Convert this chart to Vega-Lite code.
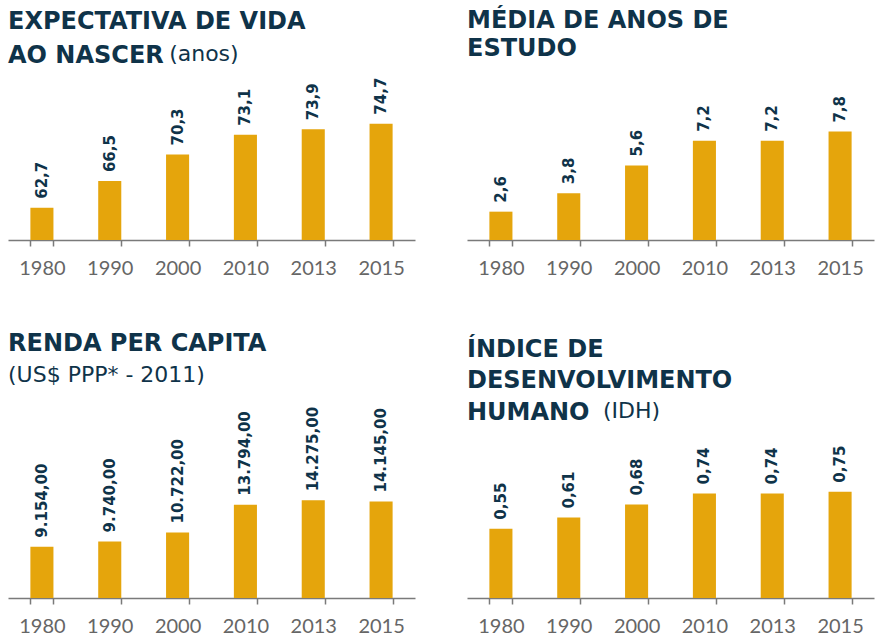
{
  "$schema": "https://vega.github.io/schema/vega-lite/v6.json",
  "background": "white",
  "padding": {"left": 8, "top": 9, "right": 4, "bottom": 2},
  "bounds": "flush",
  "columns": 2,
  "spacing": {"row": 208, "column": 52},
  "config": {
    "view": {"stroke": null},
    "locale": {"number": {"decimal": ",", "thousands": ".", "grouping": [3], "currency": ["US$", ""]}},
    "title": {
      "anchor": "start",
      "font": "DejaVu Sans",
      "fontSize": 24,
      "fontWeight": "bold",
      "color": "#0f3349",
      "subtitleFont": "DejaVu Sans",
      "subtitleFontSize": 22,
      "subtitleFontWeight": "normal",
      "subtitleColor": "#0f3349"
    },
    "axisX": {
      "title": null,
      "labelAngle": 0,
      "labelFont": "Lato",
      "labelFontSize": 20,
      "labelColor": "#666666",
      "labelPadding": 12,
      "domainColor": "#7a7a7a",
      "domainWidth": 1.5,
      "tickColor": "#7a7a7a",
      "tickWidth": 1.5,
      "tickSize": 6,
      "tickBand": "extent",
      "grid": false
    },
    "scale": {"bandPaddingInner": 0.66, "bandPaddingOuter": 0.33},
    "bar": {"color": "#e5a50c"},
    "text": {"font": "DejaVu Sans", "fontWeight": "bold", "fontSize": 15, "color": "#0f3349", "angle": 270, "align": "left", "baseline": "middle", "dx": 9}
  },
  "concat": [
    {
      "width": 407,
      "height": 150,
      "title": {
        "text": ["EXPECTATIVA DE VIDA", "AO NASCER"],
        "lineHeight": 34,
        "subtitle": "\u2800\u2800\u2800\u2800\u2800\u2800\u2800\u2800\u2800\u2800(anos)",
        "subtitlePadding": -24,
        "offset": 10
      },
      "data": {"values": [
        {"ano": "1980", "valor": 62.7},
        {"ano": "1990", "valor": 66.5},
        {"ano": "2000", "valor": 70.3},
        {"ano": "2010", "valor": 73.1},
        {"ano": "2013", "valor": 73.9},
        {"ano": "2015", "valor": 74.7}
      ]},
      "encoding": {
        "x": {"field": "ano", "type": "nominal", "sort": null},
        "y": {"field": "valor", "type": "quantitative", "scale": {"domain": [58.1, 79.5], "zero": false, "nice": false}, "axis": null}
      },
      "layer": [
        {"mark": {"type": "bar"}, "encoding": {"y2": {"datum": 58.1}}},
        {"mark": {"type": "text"}, "encoding": {"text": {"field": "valor", "type": "quantitative", "format": ".1f"}}}
      ]
    },
    {
      "width": 407,
      "height": 150,
      "title": {
        "text": ["MÉDIA DE ANOS DE", "ESTUDO"],
        "lineHeight": 28,
        "offset": 29
      },
      "data": {"values": [
        {"ano": "1980", "valor": 2.6},
        {"ano": "1990", "valor": 3.8},
        {"ano": "2000", "valor": 5.6},
        {"ano": "2010", "valor": 7.2},
        {"ano": "2013", "valor": 7.2},
        {"ano": "2015", "valor": 7.8}
      ]},
      "encoding": {
        "x": {"field": "ano", "type": "nominal", "sort": null},
        "y": {"field": "valor", "type": "quantitative", "scale": {"domain": [0.76, 10.5], "zero": false, "nice": false}, "axis": null}
      },
      "layer": [
        {"mark": {"type": "bar"}, "encoding": {"y2": {"datum": 0.76}}},
        {"mark": {"type": "text"}, "encoding": {"text": {"field": "valor", "type": "quantitative", "format": ".1f"}}}
      ]
    },
    {
      "width": 407,
      "height": 150,
      "title": {
        "text": "RENDA PER CAPITA",
        "subtitle": "(US$ PPP* - 2011)",
        "subtitlePadding": 9,
        "offset": 21
      },
      "data": {"values": [
        {"ano": "1980", "valor": 9154},
        {"ano": "1990", "valor": 9740},
        {"ano": "2000", "valor": 10722},
        {"ano": "2010", "valor": 13794},
        {"ano": "2013", "valor": 14275},
        {"ano": "2015", "valor": 14145}
      ]},
      "encoding": {
        "x": {"field": "ano", "type": "nominal", "sort": null},
        "y": {"field": "valor", "type": "quantitative", "scale": {"domain": [3485, 20060], "zero": false, "nice": false}, "axis": null}
      },
      "layer": [
        {"mark": {"type": "bar"}, "encoding": {"y2": {"datum": 3485}}},
        {"mark": {"type": "text"}, "encoding": {"text": {"field": "valor", "type": "quantitative", "format": ",.2f"}}}
      ]
    },
    {
      "width": 407,
      "height": 150,
      "title": {
        "text": ["ÍNDICE DE", "DESENVOLVIMENTO", "HUMANO"],
        "lineHeight": 31.5,
        "subtitle": "\u2800\u2800\u2800\u2800\u2800\u2800\u2800\u2800 (IDH)",
        "subtitlePadding": -24,
        "offset": 21
      },
      "data": {"values": [
        {"ano": "1980", "valor": 0.55},
        {"ano": "1990", "valor": 0.61},
        {"ano": "2000", "valor": 0.68},
        {"ano": "2010", "valor": 0.74},
        {"ano": "2013", "valor": 0.74},
        {"ano": "2015", "valor": 0.75}
      ]},
      "encoding": {
        "x": {"field": "ano", "type": "nominal", "sort": null},
        "y": {"field": "valor", "type": "quantitative", "scale": {"domain": [0.175, 0.986], "zero": false, "nice": false}, "axis": null}
      },
      "layer": [
        {"mark": {"type": "bar"}, "encoding": {"y2": {"datum": 0.175}}},
        {"mark": {"type": "text"}, "encoding": {"text": {"field": "valor", "type": "quantitative", "format": ".2f"}}}
      ]
    }
  ]
}
